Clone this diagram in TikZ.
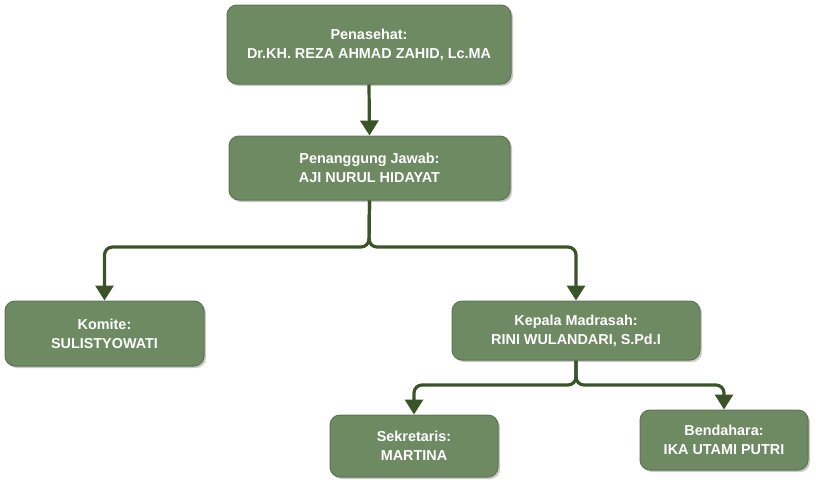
\documentclass[tikz,border=0pt]{standalone}
\usepackage{fontspec}
\setmainfont{Liberation Sans}
\usetikzlibrary{shadows,arrows.meta}
\definecolor{boxfill}{HTML}{6D8A62}
\definecolor{boxline}{HTML}{5B7651}
\definecolor{arrowc}{HTML}{3A5428}
\tikzset{
  orgbox/.style={draw=boxline, line width=1pt, fill=boxfill, rounded corners=10pt,
    text=white, font=\bfseries\fontsize{14.4}{19}\selectfont, align=center,
    inner sep=0pt, drop shadow={shadow xshift=2pt, shadow yshift=-2pt, opacity=0.35, fill=black!60}},
  conn/.style={draw=arrowc, line width=3.2pt, rounded corners=8pt,
    -{Triangle[length=15pt,width=18pt]}}
}
\begin{document}
\begin{tikzpicture}[x=1pt,y=-1pt]
\useasboundingbox (0,0) rectangle (816,485);
\node[orgbox, minimum width=284pt, minimum height=79pt] (pen) at (369,44.5) {Penasehat:\\Dr.KH. REZA AHMAD ZAHID, Lc.MA};
\node[orgbox, minimum width=281pt, minimum height=64pt] (pj) at (369.5,168) {Penanggung Jawab:\\AJI NURUL HIDAYAT};
\node[orgbox, minimum width=199pt, minimum height=65pt] (kom) at (104.5,333.5) {Komite:\\SULISTYOWATI};
\node[orgbox, minimum width=248pt, minimum height=59pt] (kep) at (576,330.5) {Kepala Madrasah:\\RINI WULANDARI, S.Pd.I};
\node[orgbox, minimum width=168pt, minimum height=62pt] (sek) at (414,446) {Sekretaris:\\MARTINA};
\node[orgbox, minimum width=168pt, minimum height=60pt] (ben) at (724,440) {Bendahara:\\IKA UTAMI PUTRI};
\coordinate (j1) at (369,247);
\coordinate (j2) at (576,385);
\draw[conn] (pen.south) -- (pj.north);
\draw[conn] (pj.south) -- (j1) -| (kom.north);
\draw[conn] (pj.south) -- (j1) -| (kep.north);
\draw[conn] (kep.south) -- (j2) -| (sek.north);
\draw[conn] (kep.south) -- (j2) -| (ben.north);
\end{tikzpicture}
\end{document}
